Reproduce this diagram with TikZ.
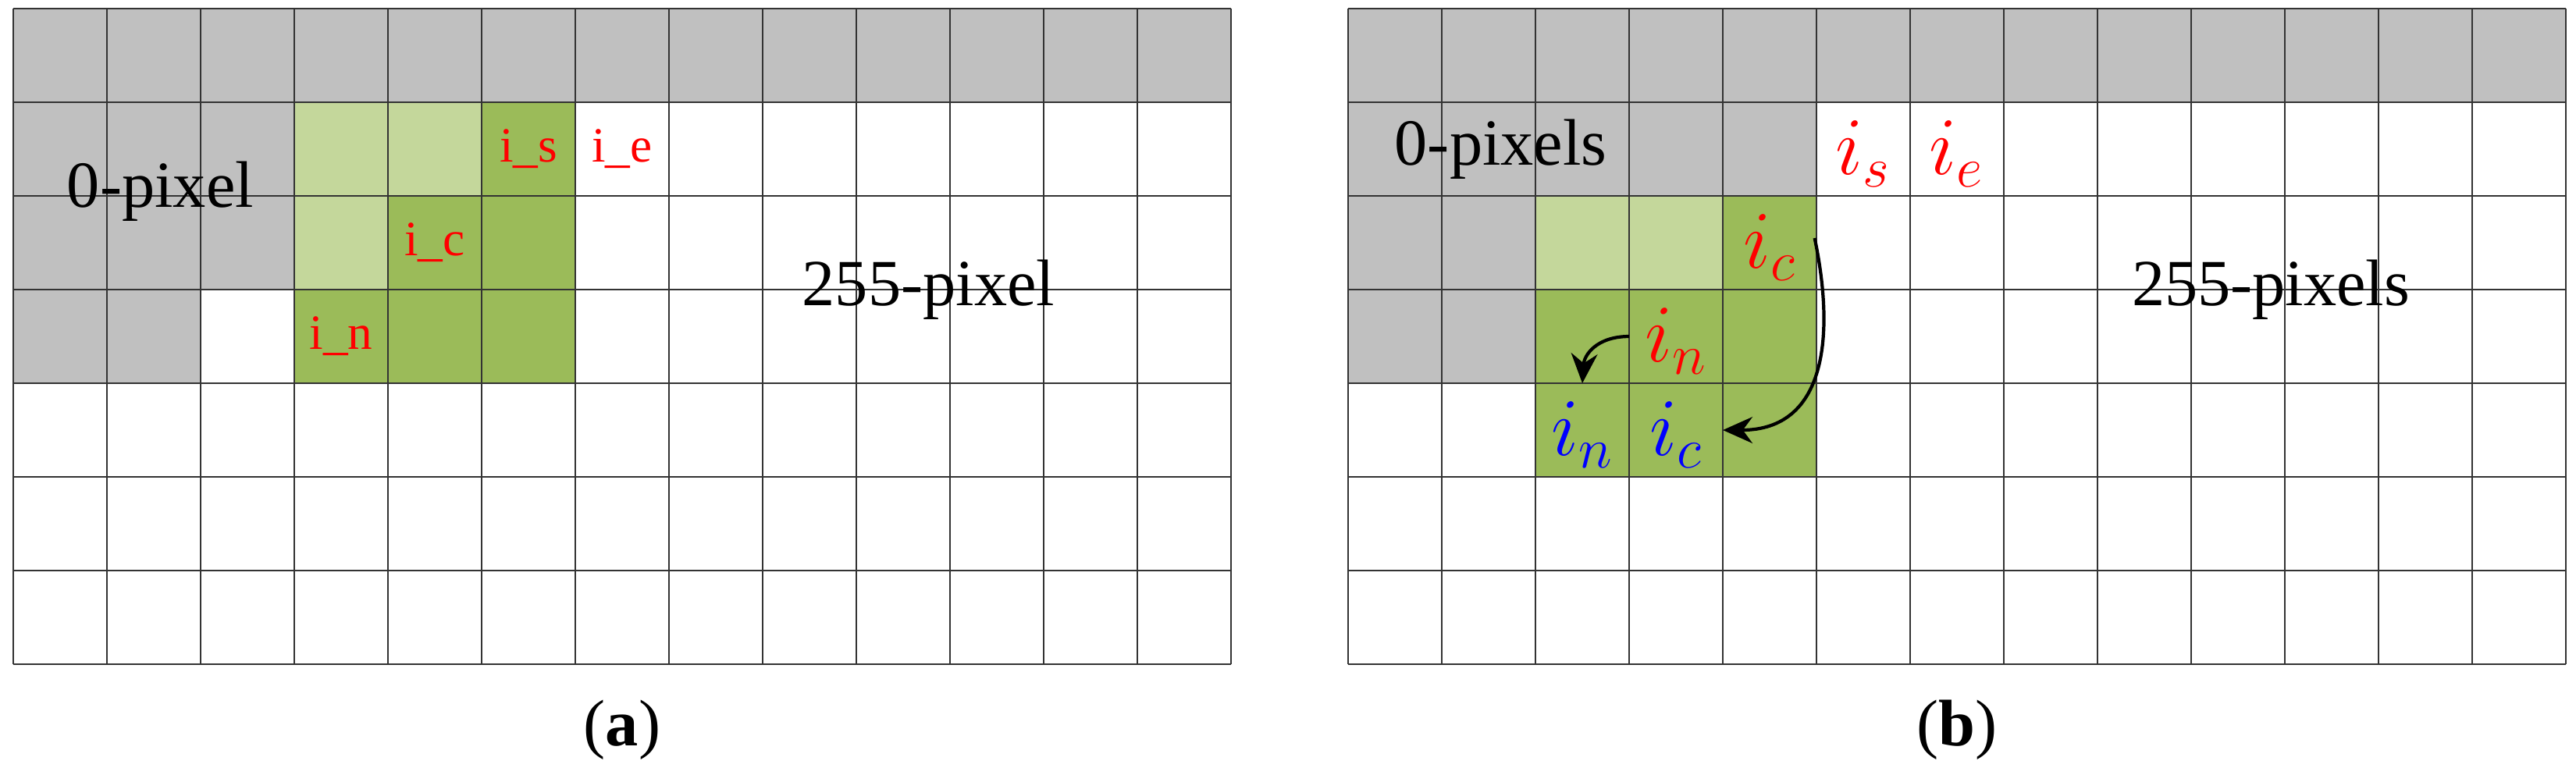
\documentclass[tikz,border=0pt]{standalone}
\usepackage{fontspec}
\setmainfont{Liberation Serif}
\usetikzlibrary{arrows.meta}
\definecolor{gr}{HTML}{C0C0C0}
\definecolor{lg}{HTML}{C4D79B}
\definecolor{dg}{HTML}{9BBB59}
\begin{document}
\begin{tikzpicture}[y=-1cm,
  grid/.style={draw=black!80,line width=0.6pt},
  big/.style={font=\fontsize{20}{22}\selectfont},
  lab/.style={text=red,font=\fontsize{15}{16}\selectfont},
  mlab/.style={font=\fontsize{24}{24}\selectfont},
  captxt/.style={font=\fontsize{20}{22}\selectfont},
  arr/.style={-{Stealth[length=9pt,width=8pt]},line width=1pt}]
\useasboundingbox (-0.142,-0.092) rectangle (27.358,8.108);
% ---- (a)
\begin{scope}
\fill[gr] (0,0) rectangle (13,1);
\fill[gr] (0,1) rectangle (3,3);
\fill[gr] (0,3) rectangle (2,4);
\fill[lg] (3,1) rectangle (5,2);
\fill[lg] (3,2) rectangle (4,3);
\fill[dg] (5,1) rectangle (6,2);
\fill[dg] (4,2) rectangle (6,3);
\fill[dg] (3,3) rectangle (6,4);
\draw[grid] (0,0) grid (13,7);
\node[lab] (as) at (5.5,1.5) {i\_s};
\node[lab] (ae) at (6.5,1.5) {i\_e};
\node[lab] (ac) at (4.5,2.5) {i\_c};
\node[lab] (an) at (3.5,3.5) {i\_n};
\node[big] (a0) at (1.57,1.95) {0-pixel};
\node[big] (a255) at (9.77,3.0) {255-pixel};
\node[captxt] (capa) at (6.5,7.7) {(\textbf{a})};
\end{scope}
% ---- (b)
\begin{scope}[xshift=14.25cm]
\fill[gr] (0,0) rectangle (13,1);
\fill[gr] (0,1) rectangle (5,2);
\fill[gr] (0,2) rectangle (2,4);
\fill[lg] (2,2) rectangle (4,3);
\fill[dg] (4,2) rectangle (5,3);
\fill[dg] (2,3) rectangle (5,5);
\draw[grid] (0,0) grid (13,7);
\node[big] (b0) at (1.63,1.5) {0-pixels};
\node[big] (b255) at (9.85,3.0) {255-pixels};
\node[mlab,text=red] (bs) at (5.5,1.55) {$i_s$};
\node[mlab,text=red] (be) at (6.5,1.55) {$i_e$};
\node[mlab,text=red] (bc) at (4.5,2.55) {$i_c$};
\node[mlab,text=red] (bn) at (3.5,3.55) {$i_n$};
\node[mlab,text=blue] (bn2) at (2.5,4.55) {$i_n$};
\node[mlab,text=blue] (bc2) at (3.5,4.55) {$i_c$};
\coordinate (s1) at (4.98,2.45);
\coordinate (t1) at (4.0,4.5);
\draw[arr] (s1) .. controls (5.2,3.5) and (5.1,4.5) .. (t1);
\coordinate (s2) at (3.0,3.5);
\coordinate (t2) at (2.5,4.0);
\draw[arr] (s2) .. controls (2.65,3.5) and (2.52,3.7) .. (t2);
\node[captxt] (capb) at (6.5,7.7) {(\textbf{b})};
\end{scope}
\end{tikzpicture}
\end{document}
